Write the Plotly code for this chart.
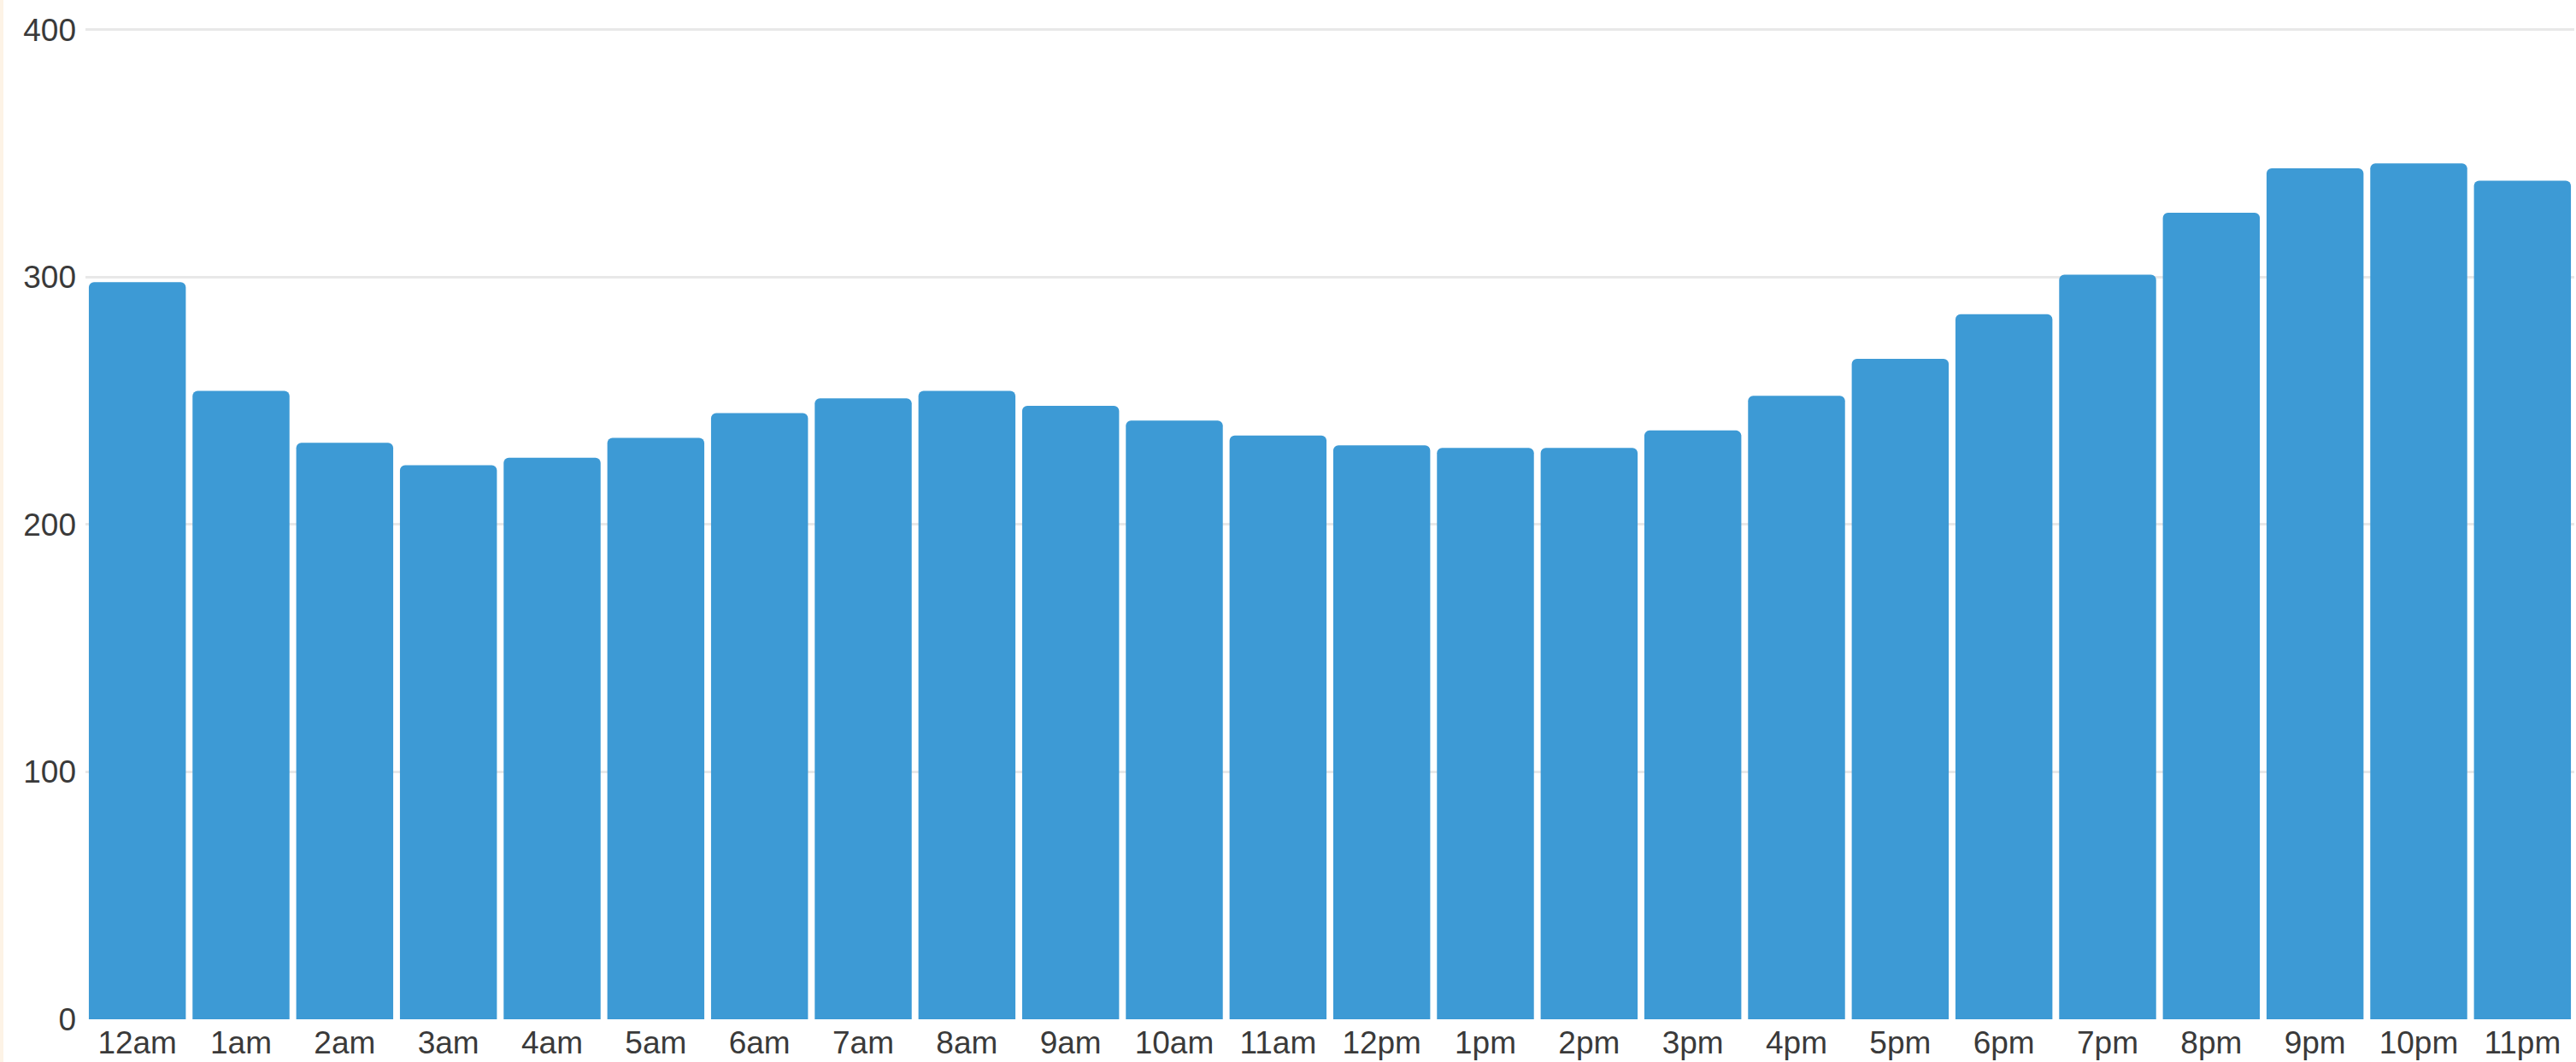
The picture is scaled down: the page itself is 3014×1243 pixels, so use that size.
import plotly.graph_objects as go

hours = ["12am", "1am", "2am", "3am", "4am", "5am", "6am", "7am", "8am", "9am", "10am", "11am",
         "12pm", "1pm", "2pm", "3pm", "4pm", "5pm", "6pm", "7pm", "8pm", "9pm", "10pm", "11pm"]
counts = [298, 254, 233, 224, 227, 235, 245, 251, 254, 248, 242, 236,
          232, 231, 231, 238, 252, 267, 285, 301, 326, 344, 346, 339]
y_ticks = [0, 100, 200, 300, 400]

fig = go.Figure(go.Bar(
    x=hours, y=counts,
    marker=dict(color="#3d9ad5", cornerradius=6, line=dict(width=0)),
    hoverinfo="x+y",
))

fig.update_layout(
    width=3014, height=1243,
    margin=dict(l=100, r=2, t=29, b=50),
    paper_bgcolor="white", plot_bgcolor="white",
    bargap=0.065,
    font=dict(family="Liberation Sans, Arial, sans-serif", size=37, color="#3a3a3a"),
    showlegend=False,
    shapes=[dict(type="rect", xref="paper", yref="paper", x0=-100/2912, x1=-96/2912,
                 y0=-50/1164, y1=1 + 29/1164, fillcolor="#fdf3e6", line=dict(width=0), layer="below")],
)
fig.update_xaxes(showgrid=False, showline=False, ticks="", ticklabelstandoff=2, zeroline=False)
fig.update_yaxes(range=[0, 402], tickvals=y_ticks, showgrid=True, gridcolor="#e8e8e8", gridwidth=2.5,
                 zeroline=False, showline=False, ticks="", ticklabelstandoff=10)

fig.write_html("out.html", config={"displayModeBar": False},
               post_script="document.body.style.margin='0';document.body.style.overflow='hidden';")
